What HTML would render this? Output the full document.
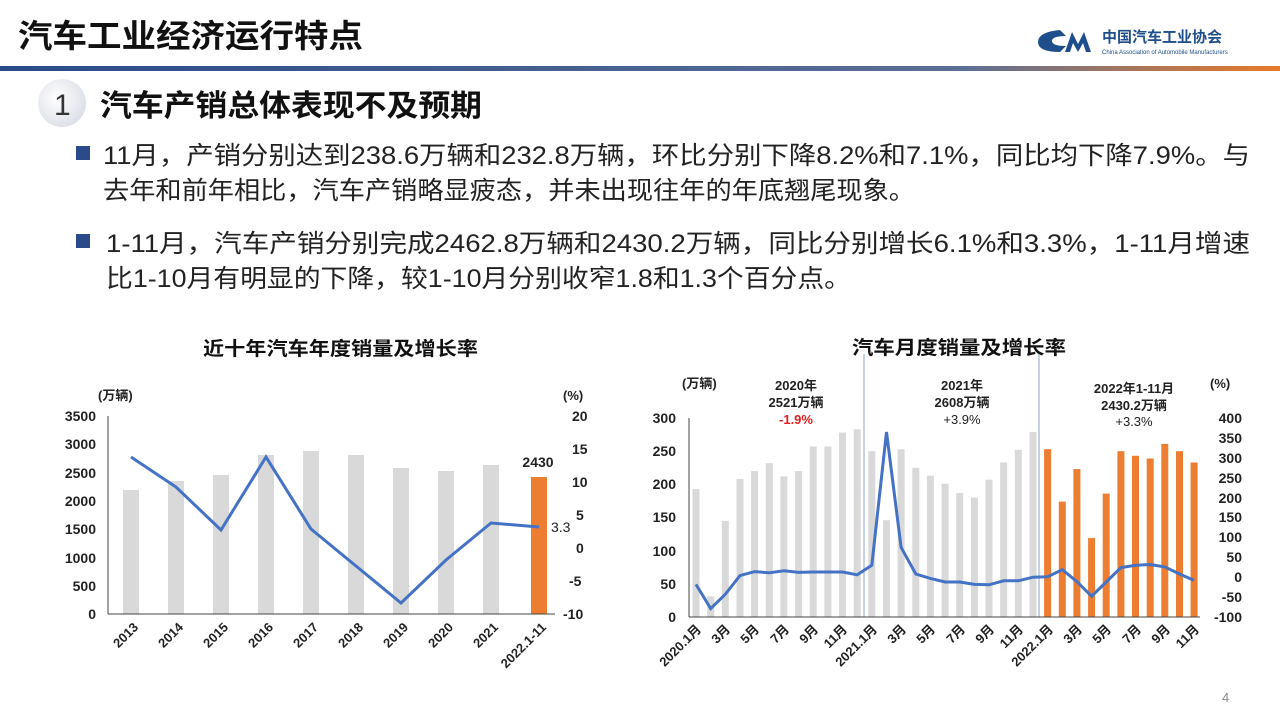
<!DOCTYPE html>
<html><head><meta charset="utf-8"><style>
body{margin:0;width:1280px;height:716px;background:#fff;overflow:hidden;font-family:"Liberation Sans","Noto Sans CJK SC",sans-serif}
</style></head><body>
<svg width="1280" height="716" xmlns="http://www.w3.org/2000/svg" font-family="Liberation Sans, Noto Sans CJK SC, sans-serif">
<defs><linearGradient id="hl" x1="0" x2="1"><stop offset="0" stop-color="#2a4a8a"/><stop offset="0.75" stop-color="#5a6f95"/><stop offset="1" stop-color="#e87a2a"/></linearGradient>
<radialGradient id="ci" cx="0.4" cy="0.4" r="0.7"><stop offset="0" stop-color="#fff"/><stop offset="1" stop-color="#d8dce4"/></radialGradient></defs>
<text x="18" y="47" font-size="32" font-weight="bold" fill="#111" textLength="345" lengthAdjust="spacingAndGlyphs">汽车工业经济运行特点</text>
<path d="M1060 30 q-22 2 -22 12 q0 10 22 10 l6 -6 q-14 0 -14 -5 q0 -5 14 -5z" fill="#1f4e8c"/>
<path d="M1065 52 l7 -20 l6 12 l6 -12 l7 20 h-5 l-3 -9 l-5 9 l-5 -9 l-3 9z" fill="#1f4e8c"/>
<text x="1102" y="42" font-size="15" font-weight="bold" fill="#1f4e8c">中国汽车工业协会</text>
<text x="1102" y="54" font-size="6" fill="#1f4e8c">China Association of Automobile Manufacturers</text>
<rect x="0" y="66" width="1280" height="5" fill="url(#hl)"/>
<circle cx="62" cy="103" r="24" fill="url(#ci)"/>
<text x="54" y="115" font-size="30" fill="#333">1</text>
<text x="100" y="116" font-size="30" font-weight="bold" fill="#111" textLength="382" lengthAdjust="spacingAndGlyphs">汽车产销总体表现不及预期</text>
<g font-size="25" fill="#222" lengthAdjust="spacingAndGlyphs">
<rect x="76" y="146" width="14" height="14" fill="#2a4a8a"/>
<text x="103" y="164" textLength="1147" lengthAdjust="spacingAndGlyphs">11月，产销分别达到238.6万辆和232.8万辆，环比分别下降8.2%和7.1%，同比均下降7.9%。与</text>
<text x="103" y="199" textLength="812" lengthAdjust="spacingAndGlyphs">去年和前年相比，汽车产销略显疲态，并未出现往年的年底翘尾现象。</text>
<rect x="76" y="234" width="14" height="14" fill="#2a4a8a"/>
<text x="106" y="252" textLength="1144" lengthAdjust="spacingAndGlyphs">1-11月，汽车产销分别完成2462.8万辆和2430.2万辆，同比分别增长6.1%和3.3%，1-11月增速</text>
<text x="106" y="287" textLength="745" lengthAdjust="spacingAndGlyphs">比1-10月有明显的下降，较1-10月分别收窄1.8和1.3个百分点。</text>
</g>
<!-- left chart -->
<text x="203" y="355" font-size="19" font-weight="bold" fill="#111" textLength="275" lengthAdjust="spacingAndGlyphs">近十年汽车年度销量及增长率</text>
<g font-size="14" font-weight="bold" fill="#222">
<text x="98" y="400" font-size="13">(万辆)</text><text x="563" y="400" font-size="13">(%)</text>
<g text-anchor="end"><text x="96" y="421">3500</text><text x="96" y="449">3000</text><text x="96" y="478">2500</text><text x="96" y="506">2000</text><text x="96" y="534">1500</text><text x="96" y="563">1000</text><text x="96" y="591">500</text><text x="96" y="619">0</text></g>
<g><text x="572" y="421">20</text><text x="572" y="454">15</text><text x="572" y="487">10</text><text x="576" y="520">5</text><text x="576" y="553">0</text><text x="569" y="586">-5</text><text x="563" y="619">-10</text></g>
</g>
<g fill="#d9d9d9">
<rect x="123" y="490" width="16" height="124"/><rect x="168" y="481" width="16" height="133"/><rect x="213" y="475" width="16" height="139"/><rect x="258" y="455" width="16" height="159"/><rect x="303" y="451" width="16" height="163"/><rect x="348" y="455" width="16" height="159"/><rect x="393" y="468" width="16" height="146"/><rect x="438" y="471" width="16" height="143"/><rect x="483" y="465" width="16" height="149"/>
</g>
<rect x="531" y="477" width="16" height="137" fill="#ed7d31"/>
<line x1="108" y1="416" x2="108" y2="614" stroke="#444"/><line x1="108" y1="614" x2="555" y2="614" stroke="#444"/>
<polyline points="131,457 176,487 221,530 266,457 311,529 356,566 401,603 446,560 491,523 539,527" fill="none" stroke="#4472c4" stroke-width="3"/>
<text x="538" y="467" font-size="14" font-weight="bold" text-anchor="middle" fill="#222">2430</text>
<text x="551" y="532" font-size="14" fill="#222">3.3</text>
<g font-size="13" font-weight="bold" fill="#222" text-anchor="end">
<text transform="translate(139,628) rotate(-45)">2013</text><text transform="translate(184,628) rotate(-45)">2014</text><text transform="translate(229,628) rotate(-45)">2015</text><text transform="translate(274,628) rotate(-45)">2016</text><text transform="translate(319,628) rotate(-45)">2017</text><text transform="translate(364,628) rotate(-45)">2018</text><text transform="translate(409,628) rotate(-45)">2019</text><text transform="translate(454,628) rotate(-45)">2020</text><text transform="translate(499,628) rotate(-45)">2021</text><text transform="translate(547,628) rotate(-45)">2022.1-11</text>
</g>
<!-- right chart -->
<text x="852" y="354" font-size="19" font-weight="bold" fill="#111" textLength="214" lengthAdjust="spacingAndGlyphs">汽车月度销量及增长率</text>
<g font-size="14" font-weight="bold" fill="#222">
<text x="682" y="388" font-size="13">(万辆)</text><text x="1210" y="388" font-size="13">(%)</text>
<g text-anchor="end"><text x="676" y="423">300</text><text x="676" y="456">250</text><text x="676" y="489">200</text><text x="676" y="522">150</text><text x="676" y="556">100</text><text x="676" y="589">50</text><text x="676" y="622">0</text></g>
<g text-anchor="end"><text x="1242" y="423">400</text><text x="1242" y="443">350</text><text x="1242" y="463">300</text><text x="1242" y="483">250</text><text x="1242" y="503">200</text><text x="1242" y="522">150</text><text x="1242" y="542">100</text><text x="1242" y="562">50</text><text x="1242" y="582">0</text><text x="1242" y="602">-50</text><text x="1242" y="622">-100</text></g>
<g text-anchor="middle" font-size="13"><text x="796" y="390">2020年</text><text x="796" y="407">2521万辆</text><text x="796" y="424" fill="#e02020">-1.9%</text>
<text x="962" y="390">2021年</text><text x="962" y="407">2608万辆</text><text x="962" y="424" font-weight="normal">+3.9%</text>
<text x="1134" y="393">2022年1-11月</text><text x="1134" y="410">2430.2万辆</text><text x="1134" y="426" font-weight="normal">+3.3%</text></g>
</g>
<line x1="864" y1="354" x2="864" y2="617" stroke="#8fa3c8"/><line x1="1039" y1="354" x2="1039" y2="617" stroke="#8fa3c8"/>
<g fill="#d9d9d9">
<rect x="692.5" y="489" width="7" height="128"/><rect x="707.2" y="596.4" width="7" height="20.6"/><rect x="721.8" y="520.8" width="7" height="96.2"/><rect x="736.5" y="479" width="7" height="138"/><rect x="751.1" y="471.1" width="7" height="145.9"/><rect x="765.8" y="463.1" width="7" height="153.9"/><rect x="780.4" y="476.4" width="7" height="140.6"/><rect x="795.1" y="471.1" width="7" height="145.9"/><rect x="809.7" y="446.5" width="7" height="170.5"/><rect x="824.4" y="446.5" width="7" height="170.5"/><rect x="839" y="432.6" width="7" height="184.4"/><rect x="853.7" y="429.3" width="7" height="187.7"/>
<rect x="868.3" y="451.2" width="7" height="165.8"/><rect x="883" y="520.2" width="7" height="96.8"/><rect x="897.6" y="449.2" width="7" height="167.8"/><rect x="912.3" y="467.8" width="7" height="149.2"/><rect x="926.9" y="475.7" width="7" height="141.3"/><rect x="941.6" y="483.7" width="7" height="133.3"/><rect x="956.2" y="493" width="7" height="124"/><rect x="970.9" y="497.6" width="7" height="119.4"/><rect x="985.5" y="479.7" width="7" height="137.3"/><rect x="1000.2" y="462.5" width="7" height="154.5"/><rect x="1014.8" y="449.8" width="7" height="167.2"/><rect x="1029.5" y="431.9" width="7" height="185.1"/>
</g>
<g fill="#ed7d31">
<rect x="1044.1" y="449.2" width="7" height="167.8"/><rect x="1058.8" y="501.6" width="7" height="115.4"/><rect x="1073.4" y="469.1" width="7" height="147.9"/><rect x="1088.1" y="538.1" width="7" height="78.9"/><rect x="1102.7" y="493.6" width="7" height="123.4"/><rect x="1117.4" y="451.2" width="7" height="165.8"/><rect x="1132" y="455.8" width="7" height="161.2"/><rect x="1146.7" y="458.5" width="7" height="158.5"/><rect x="1161.3" y="443.9" width="7" height="173.1"/><rect x="1176" y="451.2" width="7" height="165.8"/><rect x="1190.6" y="462.5" width="7" height="154.5"/>
</g>
<line x1="689" y1="418" x2="689" y2="617" stroke="#444"/><line x1="689" y1="617" x2="1200" y2="617" stroke="#444"/>
<polyline fill="none" stroke="#4472c4" stroke-width="3" points="696,584.4 710.7,608.6 725.3,594.3 740,575.6 754.6,571.6 769.3,572.8 783.9,570.8 798.6,572.4 813.2,572 827.9,572 842.5,572 857.2,574.8 871.8,565.3 886.5,432 901.1,547.3 915.8,574 930.4,578.4 945.1,582 959.7,582 974.4,584.4 989,584.8 1003.7,580.8 1018.3,580.8 1033,577.2 1047.6,576.8 1062.3,569.6 1076.9,581.6 1091.6,596.3 1106.2,582 1120.9,567.6 1135.5,565.3 1150.2,564.5 1164.8,566.9 1179.5,574 1194.1,580.4"/>
<g font-size="13" font-weight="bold" fill="#222" text-anchor="end">
<text transform="translate(702,630) rotate(-45)">2020.1月</text><text transform="translate(731,630) rotate(-45)">3月</text><text transform="translate(760,630) rotate(-45)">5月</text><text transform="translate(790,630) rotate(-45)">7月</text><text transform="translate(819,630) rotate(-45)">9月</text><text transform="translate(848,630) rotate(-45)">11月</text>
<text transform="translate(878,630) rotate(-45)">2021.1月</text><text transform="translate(907,630) rotate(-45)">3月</text><text transform="translate(936,630) rotate(-45)">5月</text><text transform="translate(966,630) rotate(-45)">7月</text><text transform="translate(995,630) rotate(-45)">9月</text><text transform="translate(1024,630) rotate(-45)">11月</text>
<text transform="translate(1054,630) rotate(-45)">2022.1月</text><text transform="translate(1083,630) rotate(-45)">3月</text><text transform="translate(1112,630) rotate(-45)">5月</text><text transform="translate(1142,630) rotate(-45)">7月</text><text transform="translate(1171,630) rotate(-45)">9月</text><text transform="translate(1200,630) rotate(-45)">11月</text>
</g>
<text x="1222" y="702" font-size="13" fill="#888">4</text>
</svg>
</body></html>
